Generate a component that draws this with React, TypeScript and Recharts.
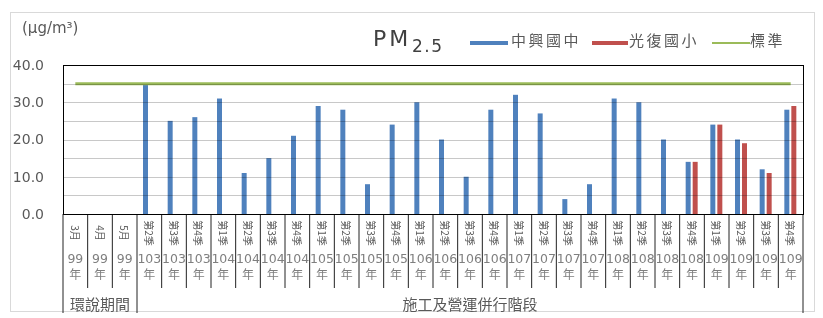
import React from 'react';
import { ComposedChart, Bar, Line, XAxis, YAxis } from 'recharts';

// 監測時段（第一列：月份/季別，第二列：年度）
const periods = [
  '3月', '4月', '5月',
  '第2季', '第3季', '第4季',
  '第1季', '第2季', '第3季', '第4季',
  '第1季', '第2季', '第3季', '第4季',
  '第1季', '第2季', '第3季', '第4季',
  '第1季', '第2季', '第3季', '第4季',
  '第1季', '第2季', '第3季', '第4季',
  '第1季', '第2季', '第3季', '第4季',
];
const years = [
  '99', '99', '99',
  '103', '103', '103',
  '104', '104', '104', '104',
  '105', '105', '105', '105',
  '106', '106', '106', '106',
  '107', '107', '107', '107',
  '108', '108', '108', '108',
  '109', '109', '109', '109',
];
const phases = [
  { label: '環說期間', from: 0, to: 2 },
  { label: '施工及營運併行階段', from: 3, to: 29 },
];

// PM2.5 (μg/m³)
const zhongxing = [
  null, null, null,
  35, 25, 26,
  31, 11, 15, 21,
  29, 28, 8, 24,
  30, 20, 10, 28,
  32, 27, 4, 8,
  31, 30, 20, 14,
  24, 20, 12, 28,
];
const guangfu = [
  null, null, null,
  null, null, null,
  null, null, null, null,
  null, null, null, null,
  null, null, null, null,
  null, null, null, null,
  null, null, null, 14,
  24, 19, 11, 29,
];
const standard = [
  35, 35, 35,
  35, 35, 35,
  35, 35, 35, 35,
  35, 35, 35, 35,
  35, 35, 35, 35,
  35, 35, 35, 35,
  35, 35, 35, 35,
  35, 35, 35, 35,
];
const yTicks = [0, 5, 10, 15, 20, 25, 30, 35, 40];

const data = periods.map((p, i) => ({
  key: `${years[i]}-${p}-${i}`,
  period: p,
  year: years[i],
  zx: zhongxing[i],
  gf: guangfu[i],
  std: standard[i],
}));

const W = 823;
const H = 318;
const X_AXIS_H = 104;
const PLOT_TOP = 65;
const PLOT_LEFT = 63;
const PLOT_RIGHT = 803;
const PLOT_BOTTOM = H - X_AXIS_H;
const BAND = (PLOT_RIGHT - PLOT_LEFT) / periods.length;
const Y_MAX = yTicks[yTicks.length - 1];

const BLUE = '#4F81BD';
const RED = '#C0504D';
const GREEN = '#9BBB59';
const TEXT = '#595959';
const FONT = '"DejaVu Sans", "Noto Sans CJK TC", sans-serif';
const CJK = '"Noto Sans CJK TC", "DejaVu Sans", sans-serif';

function CategoryTick(props: any) {
  const { x, y, payload } = props;
  const i = payload.index ?? props.index;
  const left = x - BAND / 2;
  const longLeft = phases.some((ph) => ph.from === i);
  const lastIdx = periods.length - 1;
  const groupLabels = phases
    .filter((ph) => Math.floor((ph.from + ph.to) / 2) === i)
    .map((ph) => ({ label: ph.label, cx: x + ((ph.from + ph.to) / 2 - i) * BAND }));
  return (
    <g>
      <line x1={left} x2={left} y1={y} y2={y + (longLeft ? 99 : 74)} stroke="#222" strokeWidth={1} />
      {i === lastIdx && (
        <line x1={x + BAND / 2} x2={x + BAND / 2} y1={y} y2={y + 99} stroke="#222" strokeWidth={1} />
      )}
      <text
        x={x}
        y={y + 19}
        transform={`rotate(90 ${x} ${y + 19})`}
        textAnchor="middle"
        dominantBaseline="central"
        fontSize={10}
        fontFamily={CJK}
        fill={TEXT}
      >
        {periods[i]}
      </text>
      <text x={x} y={y + 44} textAnchor="middle" dominantBaseline="central" fontSize={12.5} fontFamily={FONT} fill="#7f7f7f">
        {years[i]}
      </text>
      <text x={x} y={y + 59} textAnchor="middle" dominantBaseline="central" fontSize={12} fontFamily={CJK} fill="#7f7f7f">
        年
      </text>
      {groupLabels.map((g) => (
        <text key={g.label} x={g.cx} y={y + 89} textAnchor="middle" dominantBaseline="central" fontSize={15} fontFamily={CJK} fill={TEXT}>
          {g.label}
        </text>
      ))}
    </g>
  );
}

// 格線與繪圖區外框（疊在圖上，以 multiply 混色）
function PlotFrame() {
  const yOf = (v: number) => Math.round(PLOT_TOP + (1 - v / Y_MAX) * (PLOT_BOTTOM - PLOT_TOP)) + 0.5;
  return (
    <svg
      width={W}
      height={H}
      style={{ position: 'absolute', left: 0, top: 0, pointerEvents: 'none', mixBlendMode: 'multiply' }}
    >
      {yTicks
        .filter((v) => v !== 0 && v !== Y_MAX)
        .map((v) => (
          <line key={v} x1={PLOT_LEFT} x2={PLOT_RIGHT} y1={yOf(v)} y2={yOf(v)} stroke="#c8c8c8" strokeWidth={1} />
        ))}
      <rect
        x={PLOT_LEFT + 0.5}
        y={PLOT_TOP + 0.5}
        width={PLOT_RIGHT - PLOT_LEFT}
        height={PLOT_BOTTOM - PLOT_TOP}
        fill="none"
        stroke="#000"
        strokeWidth={1}
      />
    </svg>
  );
}

const abs = (left: number, top: number, extra: React.CSSProperties = {}): React.CSSProperties => ({
  position: 'absolute',
  left,
  top,
  whiteSpace: 'nowrap',
  ...extra,
});

function ChartLegend() {
  const labelStyle = { fontFamily: CJK, fontSize: 15, letterSpacing: 2.5, color: TEXT, lineHeight: '18px' };
  return (
    <>
      <div style={abs(373, 26, { fontFamily: FONT, fontSize: 22, letterSpacing: 3, color: '#404040', lineHeight: '26px' })}>
        PM
      </div>
      <div style={abs(412, 37, { fontFamily: FONT, fontSize: 17, letterSpacing: 1.5, color: '#404040', lineHeight: '19px' })}>
        2.5
      </div>
      <div style={abs(470, 41, { width: 38, height: 4, background: BLUE })} />
      <div style={abs(511, 31, labelStyle)}>中興國中</div>
      <div style={abs(592, 41, { width: 36, height: 4, background: RED })} />
      <div style={abs(629, 31, labelStyle)}>光復國小</div>
      <div style={abs(712, 41.5, { width: 38, height: 2.5, background: GREEN })} />
      <div style={abs(750, 31, labelStyle)}>標準</div>
    </>
  );
}

export default function App() {
  return (
    <div style={{ position: 'absolute', left: 0, top: 0, width: W, height: H, background: '#fff' }}>
      <div
        style={{
          position: 'absolute',
          left: 10,
          top: 12,
          width: 805,
          height: 300,
          border: '1px solid #d9d9d9',
          boxSizing: 'border-box',
        }}
      />
      <div style={{ position: 'absolute', left: 0, top: 0 }}>
        <ComposedChart
          width={W}
          height={H}
          data={data}
          margin={{ top: PLOT_TOP, right: W - PLOT_RIGHT, left: 8, bottom: 0 }}
          barSize={5}
          barGap={2}
        >
          <YAxis
            domain={[0, Y_MAX]}
            ticks={yTicks}
            width={PLOT_LEFT - 8}
            tickSize={0}
            tickMargin={19}
            axisLine={false}
            tickFormatter={(v: number) => v.toFixed(1)}
            tick={{ fontSize: 14, fontFamily: FONT, fill: TEXT }}
          />
          <XAxis
            dataKey="key"
            interval={0}
            height={X_AXIS_H}
            tickSize={0}
            tickMargin={0}
            axisLine={false}
            tick={<CategoryTick />}
          />
          <Bar dataKey="zx" name="中興國中" fill={BLUE} isAnimationActive={false} />
          <Bar dataKey="gf" name="光復國小" fill={RED} isAnimationActive={false} />
          <Line dataKey="std" name="標準" stroke={GREEN} strokeWidth={3} dot={false} activeDot={false} isAnimationActive={false} />
        </ComposedChart>
      </div>
      <PlotFrame />
      <div style={abs(22, 18, { fontFamily: FONT, fontSize: 15, color: TEXT, lineHeight: '20px' })}>(μg/m³)</div>
      <ChartLegend />
    </div>
  );
}
